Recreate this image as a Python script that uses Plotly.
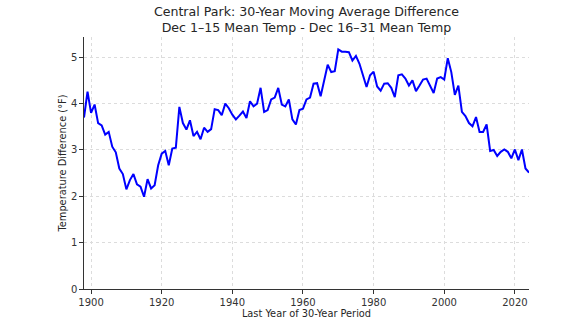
import plotly.graph_objects as go

years = list(range(1898, 2025))
diff_values = [
    3.70, 4.26, 3.80, 3.98, 3.58, 3.53, 3.33, 3.39, 3.07, 2.95,
    2.60, 2.48, 2.15, 2.35, 2.48, 2.26, 2.21, 1.99, 2.37, 2.17,
    2.24, 2.67, 2.92, 2.98, 2.67, 3.03, 3.05, 3.93, 3.58, 3.44,
    3.64, 3.30, 3.39, 3.23, 3.48, 3.39, 3.45, 3.88, 3.86, 3.75,
    4.00, 3.90, 3.76, 3.66, 3.74, 3.83, 3.69, 4.05, 3.94, 4.00,
    4.34, 3.82, 3.86, 4.09, 4.13, 4.34, 3.98, 3.94, 4.09, 3.66,
    3.55, 3.86, 3.89, 4.09, 4.13, 4.43, 4.44, 4.16, 4.50, 4.84,
    4.68, 4.70, 5.17, 5.12, 5.12, 5.11, 4.93, 5.03, 4.86, 4.61,
    4.36, 4.61, 4.69, 4.37, 4.28, 4.43, 4.44, 4.34, 4.14, 4.61,
    4.63, 4.54, 4.39, 4.50, 4.27, 4.39, 4.52, 4.54, 4.37, 4.23,
    4.54, 4.57, 4.52, 4.98, 4.68, 4.19, 4.39, 3.82, 3.73, 3.58,
    3.51, 3.71, 3.39, 3.39, 3.55, 2.98, 3.00, 2.87, 2.96, 3.01,
    2.96, 2.82, 3.01, 2.78, 3.01, 2.60, 2.51,
]
x_ticks = [1900, 1920, 1940, 1960, 1980, 2000, 2020]
y_ticks = [0, 1, 2, 3, 4, 5]

title_text = ("Central Park: 30-Year Moving Average Difference<br>"
              "Dec 1\u201315 Mean Temp - Dec 16\u201331 Mean Temp")

fig = go.Figure()
fig.add_trace(go.Scatter(
    x=years, y=diff_values, mode="lines",
    line=dict(color="#0000ff", width=2),
    showlegend=False,
))

font_family = "DejaVu Sans"
grid_color = "#dcdcdc"
fig.update_layout(
    width=573, height=333,
    margin=dict(l=84, r=44, t=37, b=44),
    paper_bgcolor="white", plot_bgcolor="white",
    font=dict(family=font_family, size=10, color="#333333"),
    title=dict(
        text=title_text,
        x=(84 + 529) / 2 / 573, xanchor="center",
        y=1 - 16 / 333, yanchor="middle",
        font=dict(family=font_family, size=12.6, color="#262626"),
    ),
    xaxis=dict(
        range=[1898, 2024],
        tickvals=x_ticks,
        showgrid=True, gridcolor=grid_color, gridwidth=0.7, griddash="dot",
        showline=True, linecolor="#333333", linewidth=1.2,
        ticks="outside", ticklen=3.5, tickcolor="#333333", tickwidth=1,
        zeroline=False,
        title=dict(text="Last Year of 30-Year Period", standoff=0,
                   font=dict(family=font_family, size=9.8, color="#262626")),
    ),
    yaxis=dict(
        range=[0, 5.437],
        tickvals=y_ticks,
        showgrid=True, gridcolor=grid_color, gridwidth=0.7, griddash="dot",
        showline=True, linecolor="#333333", linewidth=1.2,
        ticks="outside", ticklen=3.5, tickcolor="#333333", tickwidth=1,
        zeroline=False,
        title=dict(text="Temperature Difference (\u00b0F)", standoff=2,
                   font=dict(family=font_family, size=9.8, color="#262626")),
    ),
)

fig.write_html("out.html")
